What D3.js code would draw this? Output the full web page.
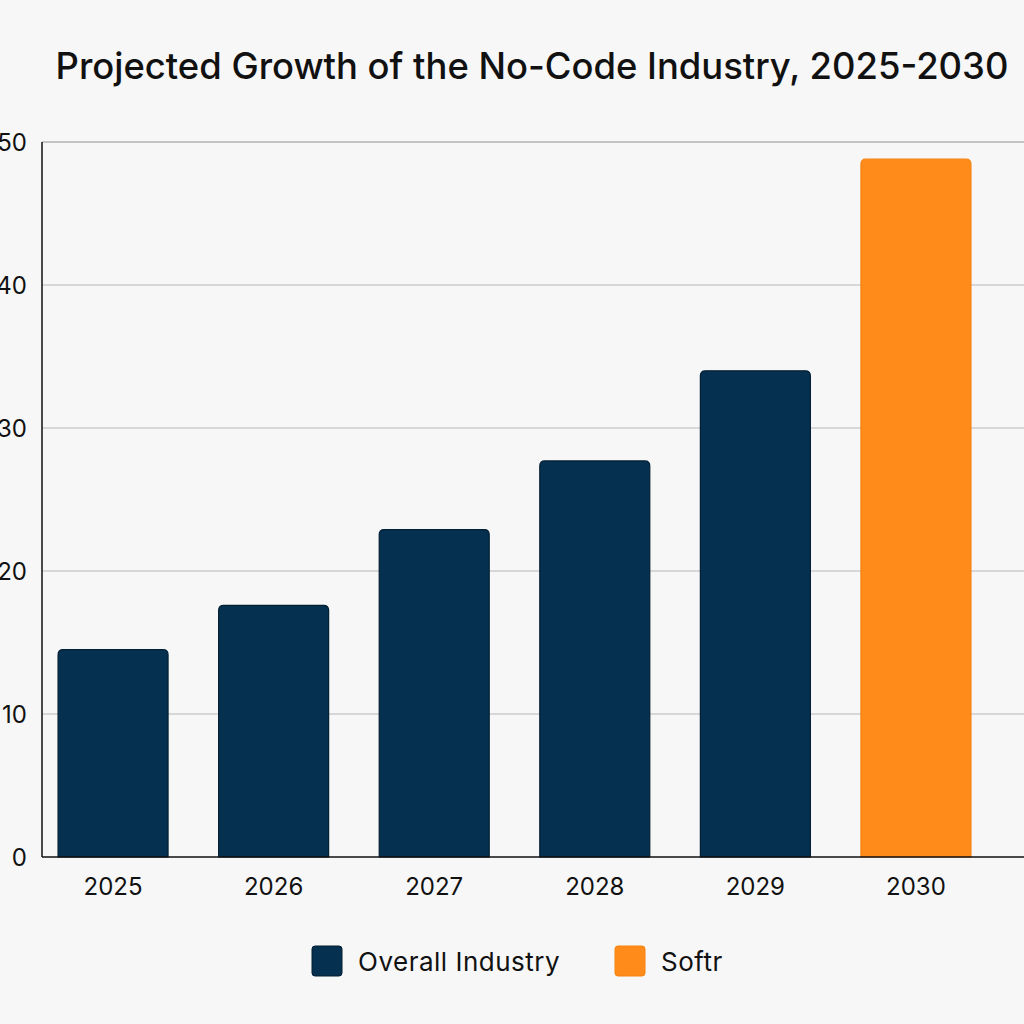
<!DOCTYPE html>
<html>
<head>
<meta charset="utf-8">
<script src="https://cdn.jsdelivr.net/npm/d3@7"></script>
<style>
  html, body { margin: 0; padding: 0; background: #f7f7f7; }
  svg { display: block; font-family: Inter, "Noto Sans", sans-serif; }
</style>
</head>
<body>
<svg id="chart" width="1024" height="1024"></svg>
<script>
// data
const years = ["2025", "2026", "2027", "2028", "2029", "2030"];
const values = [14.5, 17.6, 22.9, 27.7, 34.0, 48.8];
const series = ["Overall Industry", "Overall Industry", "Overall Industry", "Overall Industry", "Overall Industry", "Softr"];
const yTicks = [0, 10, 20, 30, 40, 50];
const legendNames = ["Overall Industry", "Softr"];
const colors = { "Overall Industry": "#06304f", "Softr": "#ff8c1a" };
const strokes = { "Overall Industry": "#021e33", "Softr": "#f58310" };

const width = 1024, height = 1024;
const mLeft = 42, mTop = 142, mBottom = 857, mRight = 1024;

const svg = d3.select("#chart");

svg.append("rect").attr("width", width).attr("height", height).attr("fill", "#f7f7f7");

// title
svg.append("text")
  .attr("x", 532).attr("y", 79)
  .attr("text-anchor", "middle")
  .attr("font-size", 36.4)
  .attr("font-weight", 500)
  .attr("fill", "#111")
  .text("Projected Growth of the No-Code Industry, 2025-2030");

const y = d3.scaleLinear().domain([0, 50]).range([mBottom, mTop]);
const x = d3.scaleBand().domain(years).range([mLeft, 987]).paddingInner(0.315).paddingOuter(0.1);

// gridlines
svg.append("g").selectAll("line")
  .data(yTicks.filter(d => d > 0))
  .enter().append("line")
  .attr("x1", mLeft).attr("x2", mRight)
  .attr("y1", d => y(d)).attr("y2", d => y(d))
  .attr("stroke", d => d === 50 ? "#c4c4c4" : "#b8b8b8")
  .attr("stroke-width", d => d === 50 ? 2 : 1.2);

// y labels
svg.append("g").selectAll("text")
  .data(yTicks)
  .enter().append("text")
  .attr("x", 27).attr("y", d => y(d))
  .attr("dy", "0.36em")
  .attr("text-anchor", "end")
  .attr("font-size", 24)
  .attr("fill", "#111")
  .text(d => d);

// bars with rounded top corners
const r = 5;
function barPath(d, i) {
  const x0 = x(years[i]), w = x.bandwidth();
  const y0 = y(d), yb = y(0);
  return `M${x0},${yb} L${x0},${y0 + r} Q${x0},${y0} ${x0 + r},${y0} L${x0 + w - r},${y0} Q${x0 + w},${y0} ${x0 + w},${y0 + r} L${x0 + w},${yb} Z`;
}
svg.append("g").selectAll("path")
  .data(values)
  .enter().append("path")
  .attr("d", barPath)
  .attr("fill", (d, i) => colors[series[i]])
  .attr("stroke", (d, i) => strokes[series[i]])
  .attr("stroke-width", 1.2);

// axes lines
svg.append("line")
  .attr("x1", mLeft).attr("x2", mLeft).attr("y1", mTop).attr("y2", mBottom)
  .attr("stroke", "#111").attr("stroke-width", 1.5);
svg.append("line")
  .attr("x1", mLeft).attr("x2", mRight).attr("y1", mBottom).attr("y2", mBottom)
  .attr("stroke", "#111").attr("stroke-width", 1.5);

// x labels
svg.append("g").selectAll("text")
  .data(years)
  .enter().append("text")
  .attr("x", d => x(d) + x.bandwidth() / 2)
  .attr("y", 886)
  .attr("dy", "0.36em")
  .attr("text-anchor", "middle")
  .attr("font-size", 24)
  .attr("fill", "#111")
  .text(d => d);

// legend
const legendX = [312, 615];
const lg = svg.append("g").selectAll("g")
  .data(legendNames)
  .enter().append("g")
  .attr("transform", (d, i) => `translate(${legendX[i]},946)`);
lg.append("rect")
  .attr("width", 30).attr("height", 30).attr("rx", 3)
  .attr("fill", d => colors[d])
  .attr("stroke", d => strokes[d]).attr("stroke-width", 1);
lg.append("text")
  .attr("x", 46).attr("y", 16)
  .attr("dy", "0.36em")
  .attr("font-size", 26)
  .attr("letter-spacing", 0.5)
  .attr("fill", "#111")
  .text(d => d);
</script>
</body>
</html>
